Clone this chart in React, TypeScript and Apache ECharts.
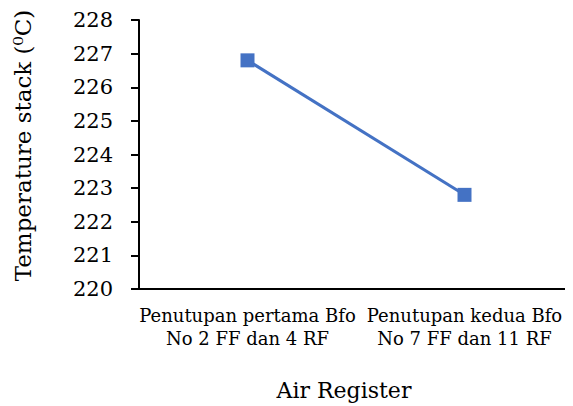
import React, { useEffect, useRef } from "react";
import * as echarts from "echarts";

const categories = [
  "Penutupan pertama Bfo\nNo 2 FF dan 4 RF",
  "Penutupan kedua Bfo\nNo 7 FF dan 11 RF",
];
const temperatures = [226.8, 222.8];
const yMin = 220;
const yMax = 228;
const yInterval = 1;

const FONT = "'DejaVu Serif', 'Liberation Serif', serif";

export default function App() {
  const ref = useRef<HTMLDivElement>(null);
  useEffect(() => {
    if (!ref.current) return;
    const chart = echarts.init(ref.current, undefined, { renderer: "svg" });
    chart.setOption({
      animation: false,
      backgroundColor: "#ffffff",
      textStyle: { fontFamily: FONT },
      grid: { left: 139, top: 20, right: 0, bottom: 117, containLabel: false },
      xAxis: {
        type: "category",
        data: categories,
        boundaryGap: true,
        name: "Air Register",
        nameLocation: "middle",
        nameGap: 90,
        nameTextStyle: { fontFamily: FONT, fontSize: 22, color: "#000", padding: [0, 24, 0, 0] },
        axisLine: { lineStyle: { color: "#000", width: 2 } },
        axisTick: { show: false },
        axisLabel: {
          interval: 0,
          margin: 15,
          fontFamily: FONT,
          fontSize: 18,
          lineHeight: 23,
          color: "#000",
        },
        splitLine: { show: false },
      },
      yAxis: {
        type: "value",
        min: yMin,
        max: yMax,
        interval: yInterval,
        name: "Temperature stack (⁰C)",
        nameLocation: "middle",
        nameGap: 105,
        nameTextStyle: { fontFamily: FONT, fontSize: 23, color: "#000", padding: [0, 0, 0, 18] },
        axisLine: { show: true, lineStyle: { color: "#000", width: 2 } },
        axisTick: { show: true, inside: false, length: 8, lineStyle: { color: "#000", width: 2 } },
        axisLabel: { margin: 26, fontFamily: FONT, fontSize: 21, color: "#000" },
        splitLine: { show: false },
      },
      series: [
        {
          type: "line",
          data: temperatures,
          symbol: "rect",
          symbolSize: 14,
          lineStyle: { color: "#4472C4", width: 3 },
          itemStyle: { color: "#4472C4" },
        },
      ],
    });
    return () => chart.dispose();
  }, []);
  return <div ref={ref} style={{ width: 573, height: 406, marginLeft: -8, marginTop: -8 }} />;
}
